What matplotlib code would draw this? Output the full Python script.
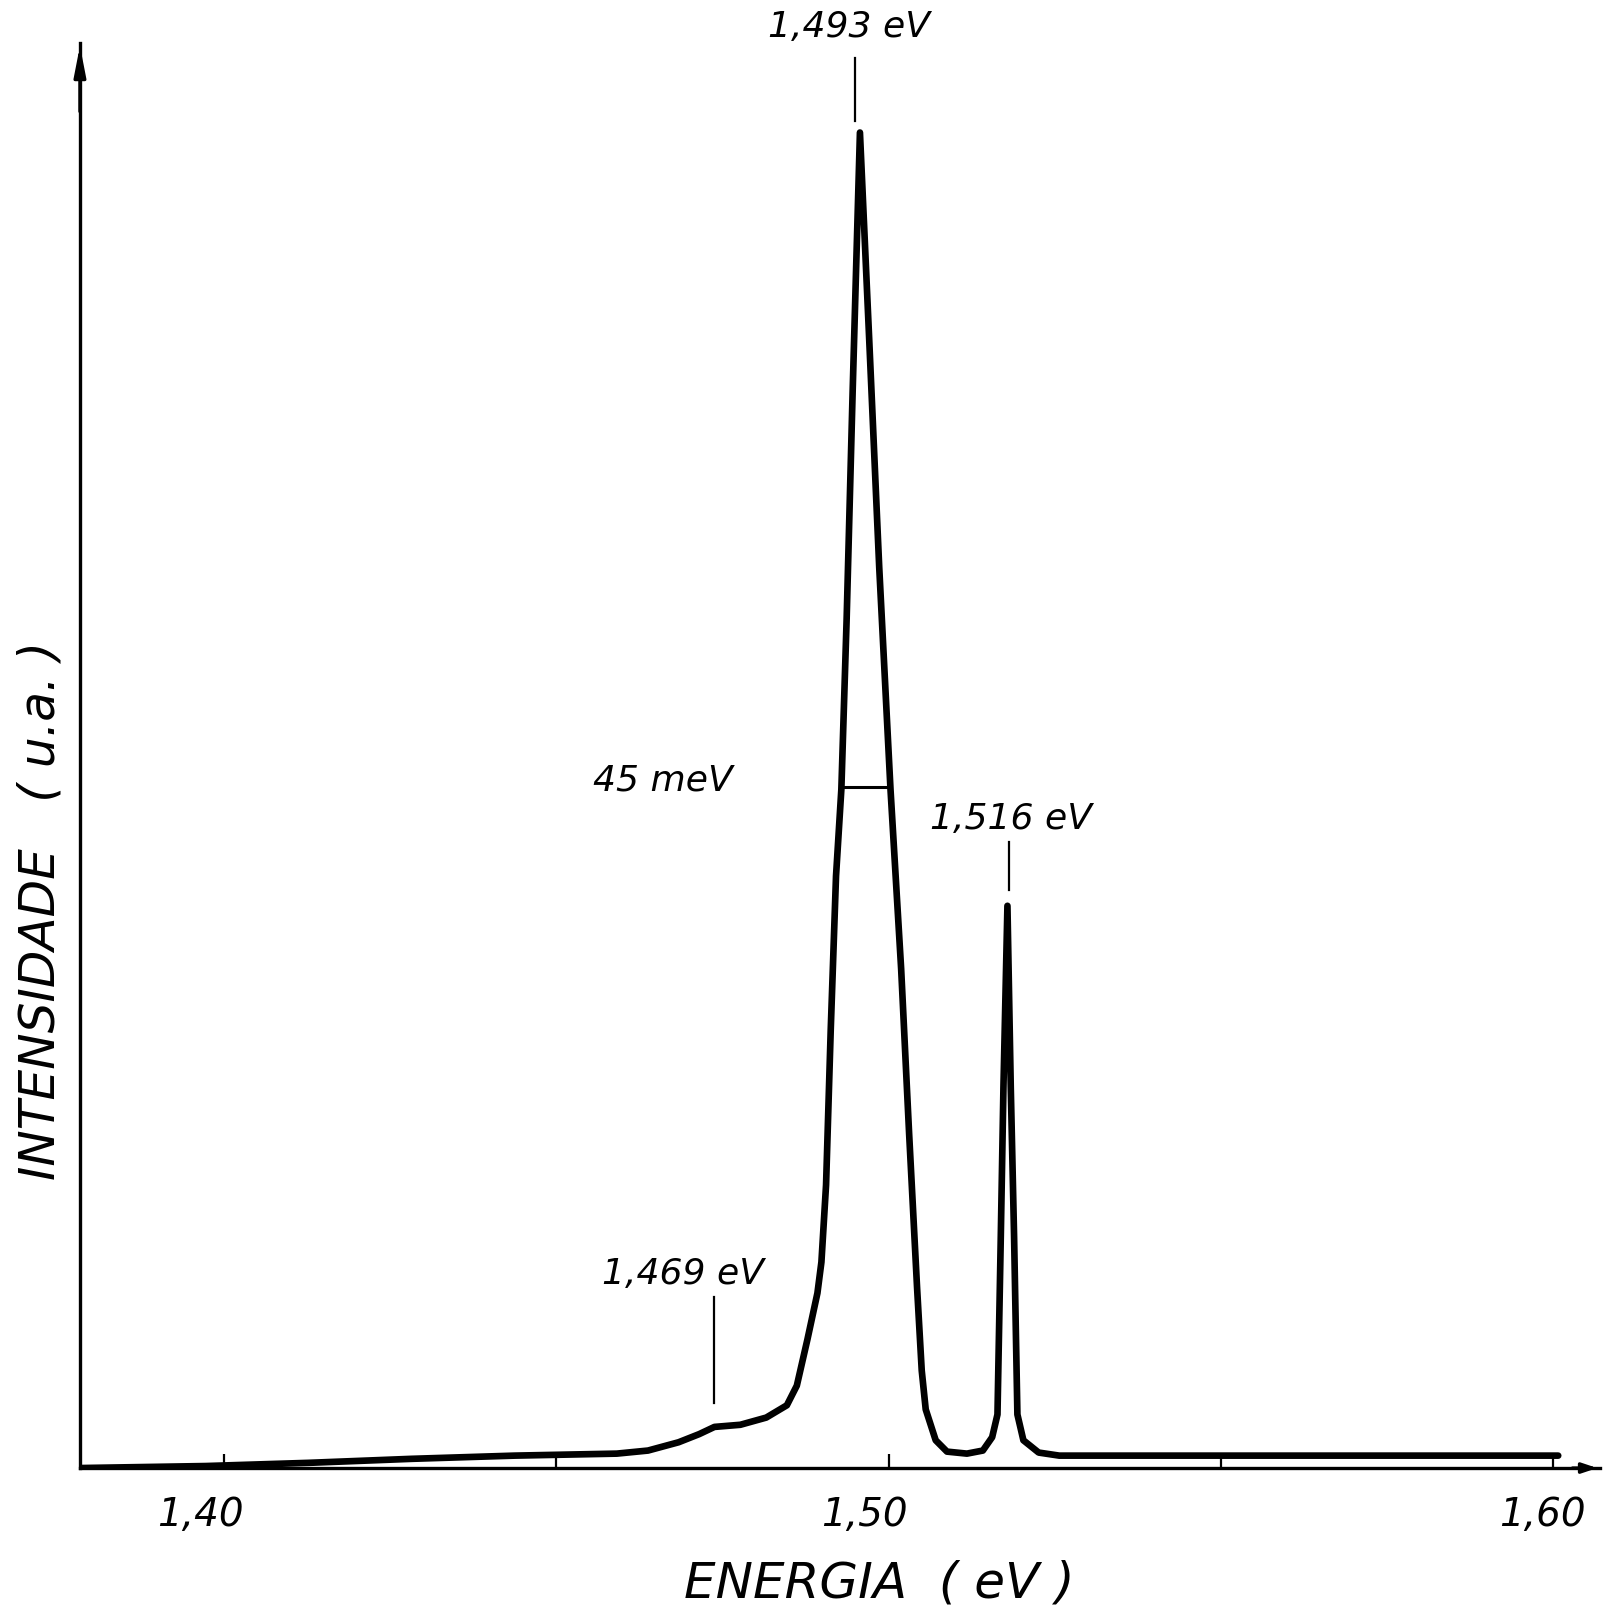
import matplotlib
matplotlib.use("Agg")
import matplotlib.pyplot as plt
from matplotlib.transforms import ScaledTranslation

# ------------------------------
# Daten
# ------------------------------
energia = [1.3783, 1.3972, 1.4127, 1.4282, 1.4437, 1.4591, 1.4638, 1.4684,
           1.4715, 1.4738, 1.4777, 1.4816, 1.4847, 1.4862, 1.4878, 1.4893,
           1.4899, 1.4906, 1.4913, 1.4921, 1.4929, 1.4937, 1.4946, 1.4957,
           1.4971, 1.4986, 1.5003, 1.5019, 1.5031, 1.5043, 1.5050, 1.5056,
           1.5071, 1.5088, 1.5118, 1.5142, 1.5156, 1.5164, 1.5169, 1.5173,
           1.5179, 1.5184, 1.5189, 1.5194, 1.5203, 1.5226, 1.5257, 1.6008]
intensidade = [0.0, 0.15, 0.39, 0.69, 0.93, 1.08, 1.31, 1.93,
               2.54, 3.08, 3.24, 3.78, 4.70, 6.17, 9.64, 13.10,
               15.42, 21.20, 32.77, 44.33, 50.81, 63.61, 80.57, 100.0,
               84.43, 67.46, 50.81, 37.39, 25.06, 13.49, 7.30, 4.39,
               2.08, 1.23, 1.08, 1.31, 2.31, 4.01, 17.35, 28.53,
               42.10, 28.53, 17.35, 4.01, 2.08, 1.16, 0.93, 0.93]

xticks = [1.40, 1.45, 1.50, 1.55, 1.60]
xticklabels = ["1,40", "", "1,50", "", "1,60"]
tick_shift = [-0.24, 0.0, -0.24, 0.0, -0.10]   # Zoll, Handbeschriftung leicht versetzt

# Markierungen: (Text, Text-x, Text-y, Strich-x, Strich-y0, Strich-y1)
marken = [("1,493 eV", 1.4941, 107.9, 1.4950, 100.9, 105.6),
          ("1,469 eV", 1.4691, 14.5, 1.4738, 4.9, 12.8),
          ("1,516 eV", 1.5184, 48.6, 1.5182, 43.3, 46.9)]
fwhm_text = "45 meV"
fwhm_pos = (1.4661, 51.5)
fwhm_x = (1.4928, 1.5002)
fwhm_y = 51.0

xlim = (1.3783, 1.6071)
ylim = (0, 106.7)

# ------------------------------
# Plot
# ------------------------------
fig = plt.figure(figsize=(16.12, 16.12), dpi=100)
ax = fig.add_axes([0.0496, 0.0893, 0.9430, 0.8840])

font = dict(family="DejaVu Sans", style="oblique", color="black")

ax.plot(energia, intensidade, color="black", lw=4.8,
        solid_joinstyle="round", solid_capstyle="round")

# FWHM-Strich
ax.plot(fwhm_x, [fwhm_y, fwhm_y], color="black", lw=2.2)
ax.text(fwhm_pos[0], fwhm_pos[1], fwhm_text, ha="center", va="center",
        fontsize=26, **font)

for txt, tx, ty, lx, ly0, ly1 in marken:
    ax.plot([lx, lx], [ly0, ly1], color="black", lw=1.6)
    ax.text(tx, ty, txt, ha="center", va="center", fontsize=26,
            clip_on=False, **font)

ax.set_xlim(*xlim)
ax.set_ylim(*ylim)

# Achsen
for s in ["top", "right"]:
    ax.spines[s].set_visible(False)
for s in ["left", "bottom"]:
    ax.spines[s].set_linewidth(2.4)

ax.set_xticks(xticks)
ax.set_xticklabels(xticklabels, fontsize=28, **font)
ax.tick_params(axis="x", direction="in", length=10, width=1.6, pad=20)
ax.set_yticks([])
for lab, dx in zip(ax.get_xticklabels(), tick_shift):
    lab.set_transform(lab.get_transform() + ScaledTranslation(dx, 0, fig.dpi_scale_trans))

# Pfeilspitzen
ax.annotate("", xy=(0, 1.0), xycoords="axes fraction", xytext=(0, 0.95),
            arrowprops=dict(arrowstyle="-|>,head_length=1.8,head_width=0.35",
                            lw=2.4, color="black"))
ax.annotate("", xy=(1.0, 0), xycoords="axes fraction", xytext=(0.98, 0),
            arrowprops=dict(arrowstyle="-|>,head_length=0.9,head_width=0.3",
                            lw=2.4, color="black"))

ax.set_xlabel("ENERGIA  ( eV )", fontsize=36, va="center", **font)
ax.xaxis.set_label_coords(0.5257, -0.0807)
ax.set_ylabel("INTENSIDADE   ( u.a. )", fontsize=35, va="center", **font)
ax.yaxis.set_label_coords(-0.0257, 0.3916)

fig.savefig("out.png", dpi=100)
